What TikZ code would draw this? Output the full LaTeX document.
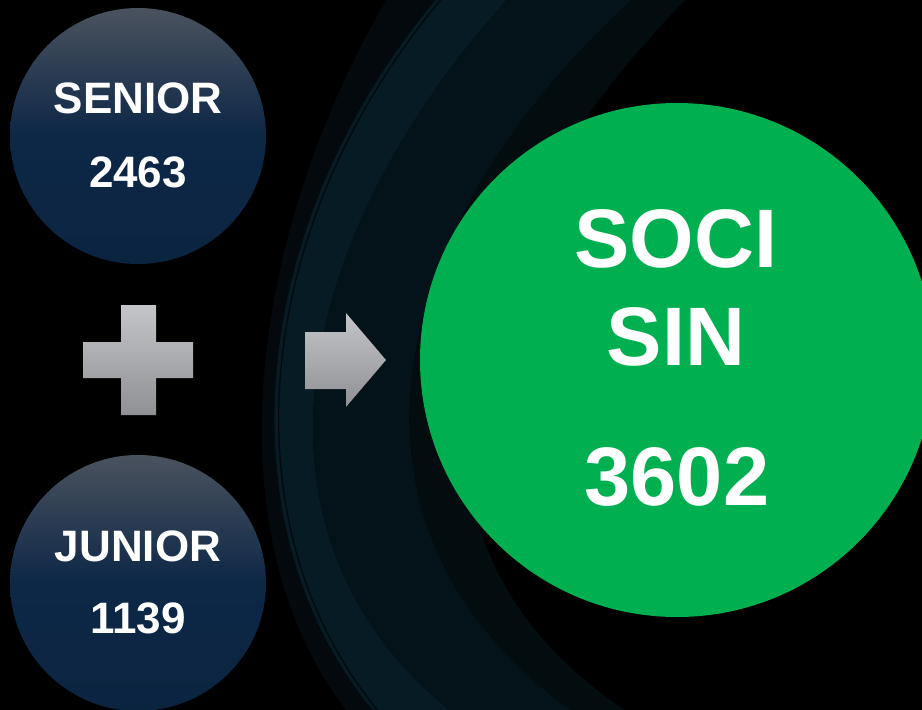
\documentclass[tikz,border=0pt]{standalone}
\usepackage{fontspec}
\setmainfont{Liberation Sans}
\definecolor{navyb}{HTML}{0A2440}
\definecolor{navym}{HTML}{0D2747}
\definecolor{navyt}{HTML}{4A525E}
\definecolor{greenc}{HTML}{00B050}
\definecolor{bandA}{HTML}{03090C}
\definecolor{bandB}{HTML}{061B24}
\definecolor{bandC}{HTML}{04131A}
\definecolor{bandD}{HTML}{030C0F}
\definecolor{thinline}{HTML}{02080B}
\definecolor{greytop}{HTML}{C4C5C9}
\definecolor{greybot}{HTML}{8F9094}
\pgfdeclareverticalshading{navyshade}{100bp}{color(0bp)=(navyb); color(25bp)=(navyb); color(50bp)=(navym); color(75bp)=(navyt); color(100bp)=(navyt)}
\tikzset{
  navycirc/.style={circle, minimum size=256pt, inner sep=0pt, shading=navyshade},
  greencirc/.style={circle, minimum size=514pt, inner sep=0pt, fill=greenc},
  smalllbl/.style={text=white, inner sep=0pt, anchor=base, font=\bfseries\fontsize{44}{44}\selectfont},
  biglbl/.style={text=white, inner sep=0pt, anchor=base, font=\bfseries\fontsize{83}{83}\selectfont},
  greyshape/.style={top color=greytop, bottom color=greybot, draw=none}
}
\begin{document}
\begin{tikzpicture}[x=1pt,y=-1pt]
\useasboundingbox (0,0) rectangle (922,710);
\clip (0,0) rectangle (922,710);
\fill[black] (0,0) rectangle (922,710);
% background swoosh bands
\fill[bandA] (392,-10) .. controls (249,230) and (206,540) .. (354,720)
  -- (381,720) .. controls (223,540) and (238,230) .. (444,-10) -- cycle;
\fill[bandB] (444,-10) .. controls (238,230) and (223,540) .. (381,720)
  -- (462,720) .. controls (224,540) and (293,230) .. (516,-10) -- cycle;
\fill[bandC] (516,-10) .. controls (293,230) and (224,540) .. (462,720)
  -- (585,720) .. controls (317,540) and (372,230) .. (643,-10) -- cycle;
\fill[bandD] (643,-10) .. controls (372,230) and (317,540) .. (585,720)
  -- (640,720) .. controls (352,540) and (456,230) .. (695,-10) -- cycle;
\draw[thinline, line width=1.2pt] (449,-10) .. controls (242,230) and (227,540) .. (386,720);
% circles
\node[navycirc] (senior) at (138,136) {};
\node[navycirc] (junior) at (138,583) {};
\node[greencirc] (soci) at (677,360) {};
% labels
\node[smalllbl] (seniorlbl) at (138,113) {SENIOR};
\node[smalllbl] (seniornum) at (138,187) {2463};
\node[smalllbl] (juniorlbl) at (138,561) {JUNIOR};
\node[smalllbl] (juniornum) at (138,633) {1139};
\node[biglbl] (socilbl) at (676,267) {SOCI};
\node[biglbl] (sinlbl) at (676,365) {SIN};
\node[biglbl] (socinum) at (677,505) {3602};
% plus sign
\fill[greyshape] (121,305) -- (156,305) -- (156,342) -- (193,342) -- (193,378) -- (156,378)
  -- (156,415) -- (121,415) -- (121,378) -- (83,378) -- (83,342) -- (121,342) -- cycle;
% arrow
\fill[greyshape] (305,332) -- (346,332) -- (346,313) -- (386,360) -- (346,407) -- (346,389) -- (305,389) -- cycle;
\end{tikzpicture}
\end{document}
